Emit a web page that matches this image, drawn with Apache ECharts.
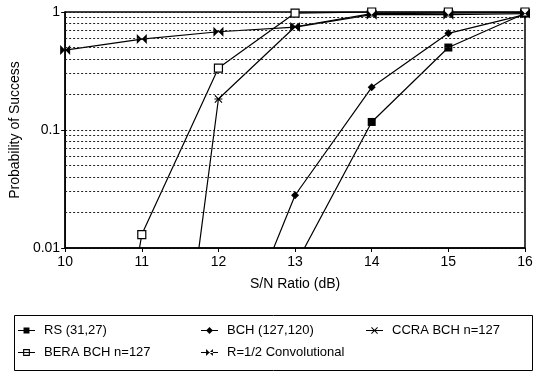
<!DOCTYPE html>
<html>
<head>
<meta charset="utf-8">
<script src="https://cdn.jsdelivr.net/npm/echarts@6/dist/echarts.min.js"></script>
<style>
  html, body { margin: 0; padding: 0; background: #fff; }
  #chart { width: 540px; height: 378px; }
</style>
</head>
<body>
<div id="chart"></div>
<script>
// S/N ratio (dB) on the x axis
var snr = [10, 11, 12, 13, 14, 15, 16];
// probability of success (values below 0.01 sit off the plot)
var rs   = [null, null, null, 0.0071, 0.117, 0.50, 0.97];
var bch  = [null, null, 0.0007, 0.028, 0.23, 0.66, 0.95];
var ccra = [null, 0.000002, 0.183, 0.75, 0.97, 0.98, 0.99];
var bera = [0.000002, 0.013, 0.335, 0.98, 1, 1, 1];
var conv = [0.476, 0.59, 0.68, 0.745, 0.95, 0.95, 0.97];
var yTicks = [0.01, 0.1, 1];
// dotted minor grid lines of the log axis
var minorLines = [0.02, 0.03, 0.04, 0.05, 0.06, 0.07, 0.08, 0.09,
                  0.2, 0.3, 0.4, 0.5, 0.6, 0.7, 0.8, 0.9];

var FONT = 'Liberation Sans';
var bowtie = 'path://M0,0L5,5L0,10Z M10,0L5,5L10,10Z';
var star = 'path://M0,1L1,0L10,9L9,10Z M9,0L10,1L1,10L0,9Z M0,4.4L10,4.4L10,5.6L0,5.6Z';

// legend icons: short line with the marker in the middle (20 x 8 box)
var bar = 'M0,3.3H20V4.7H0Z ';
var icons = {
  'RS (31,27)': 'path://' + bar + 'M6.5,0.5H13.5V7.5H6.5Z',
  'BCH (127,120)': 'path://' + bar + 'M10,0L14,4L10,8L6,4Z',
  'CCRA BCH n=127': 'path://' + bar + 'M6,0.8L6.8,0L14,7.2L13.2,8Z M13.2,0L14,0.8L6.8,8L6,7.2Z',
  'BERA BCH n=127': 'path://' + bar + 'M6,0H14V8H6Z M7.3,1.3V6.7H12.7V1.3Z',
  'R=1/2 Convolutional': 'path://' + bar + 'M6,0L10,4L6,8Z M14,0L10,4L14,8Z'
};

function pairs(arr) {
  var out = [];
  for (var i = 0; i < snr.length; i++) {
    if (arr[i] != null) out.push([snr[i], arr[i]]);
  }
  return out;
}

function line(name, arr, symbol, size, fill) {
  return {
    name: name,
    type: 'line',
    data: pairs(arr),
    symbol: symbol,
    symbolSize: size,
    showSymbol: true,
    clip: true,
    lineStyle: { color: '#000', width: 1.2 },
    itemStyle: { color: fill, borderColor: '#000', borderWidth: fill === '#fff' ? 1.2 : 0 },
    emphasis: { disabled: true },
    animation: false
  };
}

var series = [
  line('RS (31,27)', rs, 'rect', 8, '#000'),
  line('BCH (127,120)', bch, 'diamond', 8, '#000'),
  line('CCRA BCH n=127', ccra, star, 8, '#000'),
  line('BERA BCH n=127', bera, 'rect', 8, '#fff'),
  line('R=1/2 Convolutional', conv, bowtie, 10, '#000')
];
series[0].markLine = {
  silent: true,
  symbol: 'none',
  label: { show: false },
  lineStyle: { color: '#222', width: 1, type: [2, 2] },
  data: minorLines.map(function (v) { return { yAxis: v }; }),
  animation: false
};

var legendText = { fontFamily: FONT, fontSize: 13, color: '#000', padding: [0, 0, 0, 4] };
function legend(left, names) {
  return {
    orient: 'vertical',
    left: left,
    top: 319,
    itemWidth: 17,
    itemHeight: 7,
    itemGap: 9,
    data: names.map(function (n) {
      return { name: n, icon: icons[n], itemStyle: { color: '#000', borderWidth: 0 } };
    }),
    textStyle: legendText,
    inactiveColor: '#000',
    selectedMode: false
  };
}

var myChart = echarts.init(document.getElementById('chart'));
var option = {
  backgroundColor: '#fff',
  animation: false,
  grid: {
    left: 63, right: 15, top: 12, bottom: 130,
    show: true, borderColor: '#000', borderWidth: 1.5, backgroundColor: 'transparent'
  },
  legend: [
    legend(13, ['RS (31,27)', 'BERA BCH n=127']),
    legend(196, ['BCH (127,120)', 'R=1/2 Convolutional']),
    legend(361, ['CCRA BCH n=127'])
  ],
  graphic: [{
    type: 'rect',
    left: 12, top: 313,
    shape: { width: 518, height: 55 },
    style: { fill: 'none', stroke: '#000', lineWidth: 1 },
    silent: true
  }],
  xAxis: {
    type: 'value',
    min: 10, max: 16, interval: 1,
    name: 'S/N Ratio (dB)',
    nameLocation: 'middle',
    nameGap: 29,
    nameTextStyle: { fontFamily: FONT, fontSize: 14, color: '#000' },
    axisLine: { lineStyle: { color: '#000', width: 1.5 } },
    axisTick: { show: true, length: 4, lineStyle: { color: '#000' } },
    axisLabel: { fontFamily: FONT, fontSize: 14, color: '#000', margin: 7 },
    splitLine: { show: false }
  },
  yAxis: {
    type: 'log',
    logBase: 10,
    min: yTicks[0], max: yTicks[yTicks.length - 1],
    name: 'Probability of Success',
    nameLocation: 'middle',
    nameGap: 32,
    nameRotate: 90,
    nameTextStyle: { fontFamily: FONT, fontSize: 14, color: '#000' },
    axisLine: { show: true, lineStyle: { color: '#000', width: 1.5 } },
    axisTick: { show: true, length: 4, lineStyle: { color: '#000' } },
    axisLabel: { fontFamily: FONT, fontSize: 14, color: '#000', margin: 5 },
    splitLine: { show: true, lineStyle: { color: '#222', width: 1, type: [2, 2] } }
  },
  series: series
};
myChart.setOption(option);
</script>
</body>
</html>
